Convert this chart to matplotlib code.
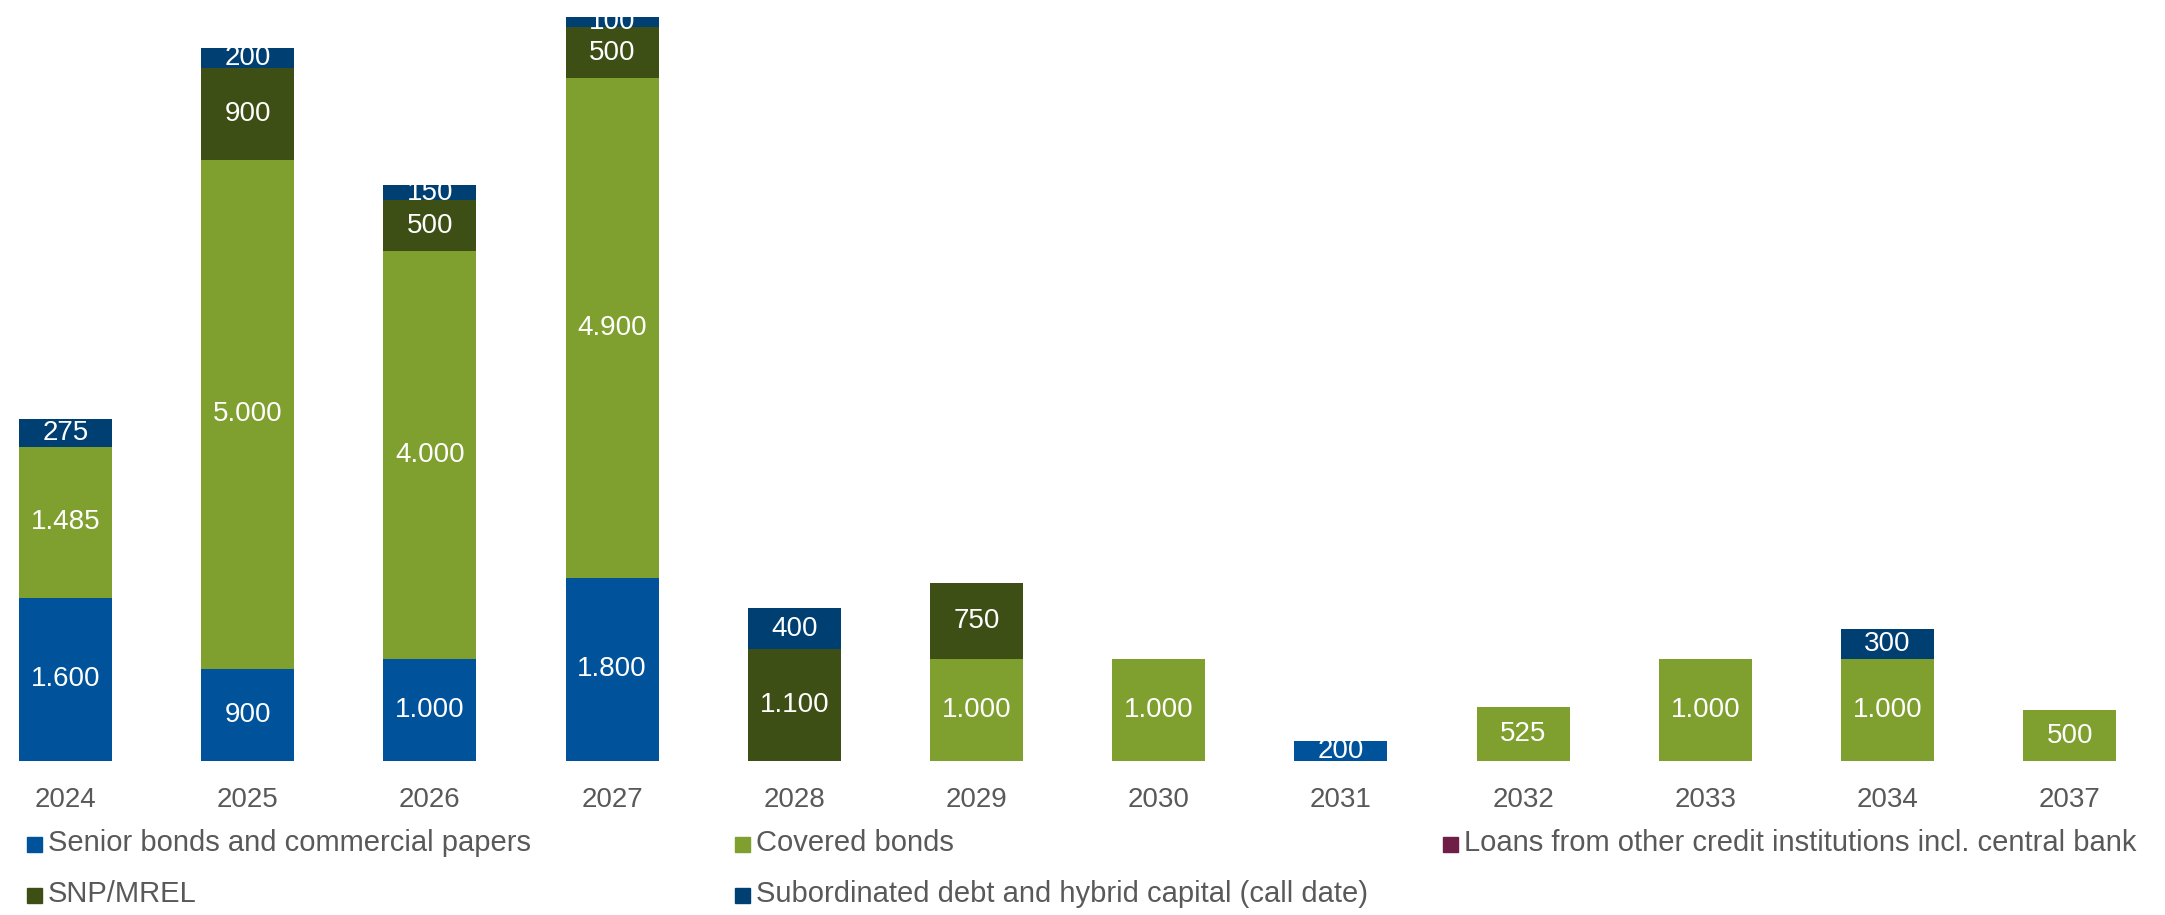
import matplotlib.pyplot as plt
from matplotlib.patches import Rectangle

plt.rcParams['font.family'] = ['Liberation Sans', 'DejaVu Sans']

years = ["2024", "2025", "2026", "2027", "2028", "2029", "2030", "2031", "2032", "2033", "2034", "2037"]

senior = [1600, 900, 1000, 1800, 0, 0, 0, 200, 0, 0, 0, 0]
covered = [1485, 5000, 4000, 4900, 0, 1000, 1000, 0, 525, 1000, 1000, 500]
loans = [0, 0, 0, 0, 0, 0, 0, 0, 0, 0, 0, 0]
snp = [0, 900, 500, 500, 1100, 750, 0, 0, 0, 0, 0, 0]
subordinated = [275, 200, 150, 100, 400, 0, 0, 0, 0, 0, 300, 0]

series_names = [
    "Senior bonds and commercial papers",
    "Covered bonds",
    "Loans from other credit institutions incl. central bank",
    "SNP/MREL",
    "Subordinated debt and hybrid capital (call date)",
]
series_values = [senior, covered, loans, snp, subordinated]
colors = ["#00539B", "#7F9F2F", "#6E1E47", "#3E4F16", "#003F72"]

text_grey = "#595959"
W, H = 2165, 915


def fmt(v):
    return f"{v:,}".replace(",", ".")


fig = plt.figure(figsize=(W / 100, H / 100), dpi=100)
ax = fig.add_axes([0, (H - 761) / H, 1, 761 / H])

x = list(range(len(years)))
bottom = [0] * len(years)
for vals, col in zip(series_values, colors):
    ax.bar(x, vals, width=0.51, bottom=bottom, color=col, linewidth=0)
    for i, v in enumerate(vals):
        if v > 0:
            ax.text(i, bottom[i] + v / 2, fmt(v), ha="center", va="center",
                    color="white", fontsize=20)
    bottom = [b + v for b, v in zip(bottom, vals)]

ax.set_xlim(-65.5 / 182.2, (W - 65.5) / 182.2)
ax.set_ylim(0, 7300 * 761 / 744)
ax.set_xticks(x)
ax.set_xticklabels(years, fontsize=20, color=text_grey)
ax.tick_params(axis="x", length=0, pad=19)
ax.set_yticks([])
for s in ax.spines.values():
    s.set_visible(False)

# legend laid out in three equal columns, two rows
col_x = 27
col_step = 708
row_y = [844, 895]
for i, (name, col) in enumerate(zip(series_names, colors)):
    c, r = i % 3, i // 3
    mx = col_x + c * col_step
    my = row_y[r]
    fig.patches.append(Rectangle(((mx) / W, 1 - (my + 8) / H), 15 / W, 15 / H,
                                 transform=fig.transFigure, color=col))
    fig.text((mx + 21) / W, 1 - (my - 1) / H, name, ha="left", va="center",
             fontsize=21, color=text_grey)

fig.savefig("out.png", dpi=100)
